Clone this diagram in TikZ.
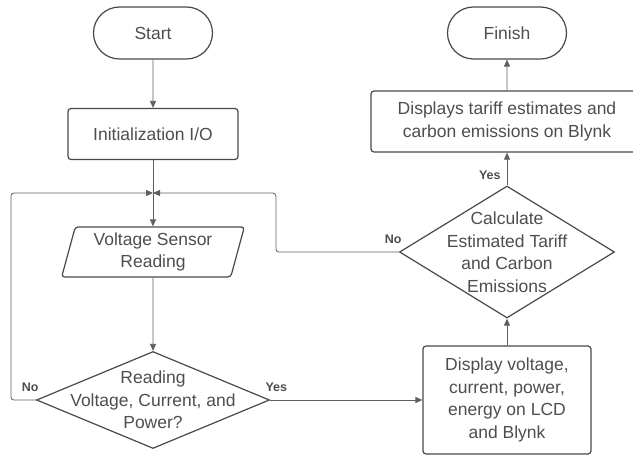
\documentclass[tikz,border=0pt]{standalone}
\usepackage{fontspec}
\setmainfont{Liberation Sans}
\usetikzlibrary{arrows.meta,shapes.geometric,shapes.misc}
\definecolor{linegray}{RGB}{95,95,95}
\definecolor{boxgray}{RGB}{72,72,72}
\definecolor{textgray}{RGB}{78,78,78}

\begin{document}
\begin{tikzpicture}[x=1pt,y=-1pt,->,>={Triangle[length=7pt,width=6pt]},line width=0.8pt,color=linegray,
  every node/.style={text=textgray,font=\fontsize{17.5}{22.5}\selectfont,align=center},
  term/.style={shape=rounded rectangle,draw=boxgray,line width=1.2pt,minimum width=119pt,minimum height=52pt,inner sep=0pt},
  proc/.style={shape=rectangle,draw=boxgray,line width=1.2pt,rounded corners=3pt,inner sep=0pt},
  io/.style={shape=trapezium,trapezium left angle=75,trapezium right angle=105,trapezium stretches=true,
    draw=boxgray,line width=1.2pt,rounded corners=3pt,minimum width=183pt,minimum height=50pt,inner sep=0pt},
  decision/.style={shape=diamond,draw=boxgray,line width=1.2pt,inner sep=0pt},
  yesno/.style={font=\fontsize{12.5}{14}\selectfont\bfseries,inner sep=0pt}]
                \useasboundingbox (0,0) rectangle (633,457);
                \node[term](Start)at(153, 33){Start};
                \node[proc,minimum width=170pt,minimum height=51pt](Init)at(153, 134){Initialization I/O};
                \node[io](Sensor)at(153, 252){Voltage Sensor\\Reading};
                \node[decision,minimum width=233pt,minimum height=97pt,
                    label={center:Reading\\Voltage, Current, and\\Power?}](Check)at(153, 400){};
                \node[proc,minimum width=168pt,minimum height=108pt](Show)at(507, 400){Display voltage,\\current, power,\\energy on LCD\\and Blynk};
                \node[decision,minimum width=215pt,minimum height=132pt,
                    label={center:Calculate\\Estimated Tariff\\and Carbon\\Emissions}](Calc)at(507, 252){};
                \node[proc,minimum width=272pt,minimum height=61pt](Blynk)at(507, 121.5){Displays tariff estimates and\\carbon emissions on Blynk};
                \node[term](Finish)at(507, 33){Finish};
                \coordinate (Join) at (153, 193);
                \path[](Start) edge (Init)
                (Init) edge (Sensor)
                (Sensor) edge (Check)
                (Check) edge node[yesno,at start,anchor=south west,xshift=-5pt,yshift=8pt]{Yes} (Show)
                (Show) edge (Calc)
                (Calc) edge node[yesno,at start,anchor=south east,xshift=-6pt,yshift=5pt]{Yes} (Blynk)
                (Blynk) edge (Finish);
                \draw[rounded corners=3pt](Check.west) node[yesno,anchor=south east,xshift=3pt,yshift=8pt]{No}
                -- ++(-25,0) |- (Join);
                \draw[rounded corners=3pt](Calc.west) node[yesno,anchor=south east,xshift=3pt,yshift=8pt]{No}
                -- ++(-123,0) |- (Join);
            \end{tikzpicture}
\end{document}
